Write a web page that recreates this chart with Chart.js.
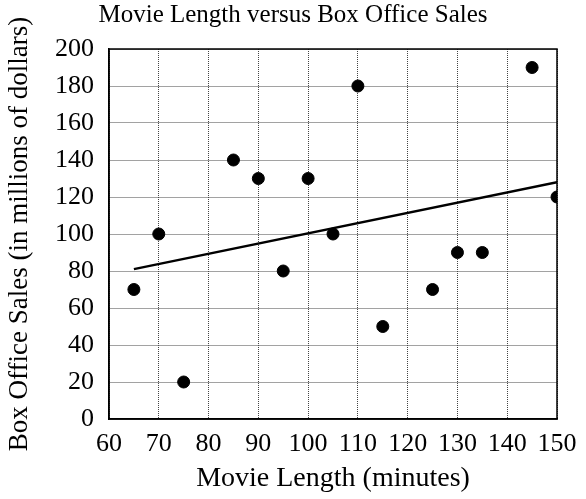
<!DOCTYPE html>
<html>
<head>
<meta charset="utf-8">
<title>Movie Length versus Box Office Sales</title>
<script src="https://cdn.jsdelivr.net/npm/chart.js@4/dist/chart.umd.min.js"></script>
<style>
  html, body { margin: 0; padding: 0; background: #fff; }
  #wrap { width: 586px; height: 499px; }
</style>
</head>
<body>
<div id="wrap"><canvas id="filmes"></canvas></div>
<script>
// duração do filme (min) e bilheteria (milhões de dólares)
const duracao = [65, 70, 75, 85, 90, 95, 100, 105, 110, 115, 125, 130, 135, 145, 150];
const bilheteria = [70, 100, 20, 140, 130, 80, 130, 100, 180, 50, 70, 90, 90, 190, 120];

// reta de tendência: extremos
const tendenciaX = [65, 150];
const tendenciaY = [81, 128];

// eixos
const xTicks = [60, 70, 80, 90, 100, 110, 120, 130, 140, 150];
const yTicks = [0, 20, 40, 60, 80, 100, 120, 140, 160, 180, 200];

const fonte = "'Liberation Serif', 'Times New Roman', serif";

// moldura preta em volta da área do gráfico
const moldura = {
    id: 'moldura',
    afterDraw(chart) {
        const { ctx, chartArea: a } = chart;
        ctx.save();
        ctx.strokeStyle = '#000';
        ctx.lineWidth = 1.5;
        ctx.strokeRect(a.left, a.top, a.right - a.left, a.bottom - a.top);
        ctx.restore();
    }
};

new Chart(document.getElementById('filmes'), {
    type: 'scatter',
    data: {
        datasets: [
            {
                label: 'Filmes',
                data: duracao.map((x, i) => ({ x: x, y: bilheteria[i] })),
                backgroundColor: '#000',
                borderColor: '#000',
                pointRadius: 6,
                pointHoverRadius: 6
            },
            {
                type: 'line',
                label: 'Tendência',
                data: tendenciaX.map((x, i) => ({ x: x, y: tendenciaY[i] })),
                borderColor: '#000',
                borderWidth: 2.5,
                pointRadius: 0,
                fill: false
            }
        ]
    },
    options: {
        responsive: true,
        maintainAspectRatio: false,
        animation: false,
        layout: { padding: 0 },
        plugins: {
            legend: { display: false },
            tooltip: { enabled: false },
            title: {
                display: true,
                text: 'Movie Length versus Box Office Sales',
                color: '#000',
                font: { family: fonte, size: 25, weight: 'normal' },
                padding: { top: 0, bottom: 19 }
            }
        },
        scales: {
            x: {
                type: 'linear',
                min: 60,
                max: 150,
                afterBuildTicks: scale => { scale.ticks = xTicks.map(v => ({ value: v })); },
                // altura fixa do eixo e folga à direita da área do gráfico
                afterFit: scale => { scale.height = 80; scale.paddingRight = 29; },
                grid: { color: '#444', lineWidth: 1, drawTicks: false },
                border: { display: true, color: '#000', width: 1.5, dash: [1, 1] },
                ticks: { color: '#000', padding: 10, font: { family: fonte, size: 26 } },
                title: {
                    display: true,
                    text: 'Movie Length (minutes)',
                    color: '#000',
                    font: { family: fonte, size: 28 },
                    padding: { top: 1 }
                }
            },
            y: {
                type: 'linear',
                min: 0,
                max: 200,
                afterBuildTicks: scale => { scale.ticks = yTicks.map(v => ({ value: v })); },
                afterFit: scale => { scale.width = 109; },
                grid: { color: '#444', lineWidth: 1, drawTicks: false },
                border: { display: true, color: '#000', width: 1.5, dash: [1, 1] },
                ticks: { color: '#000', padding: 15, font: { family: fonte, size: 26 } },
                title: {
                    display: true,
                    text: 'Box Office Sales (in millions of dollars)',
                    color: '#000',
                    font: { family: fonte, size: 27 },
                    padding: { bottom: 0 }
                }
            }
        }
    },
    plugins: [moldura]
});
</script>
</body>
</html>
